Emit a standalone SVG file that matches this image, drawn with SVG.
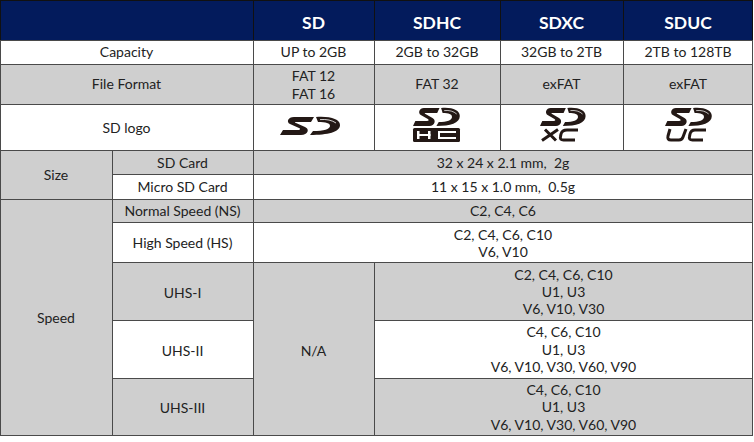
<svg xmlns="http://www.w3.org/2000/svg" width="754" height="442" viewBox="0 0 754 442">
<style>
.c{stroke:#4a4a4a;stroke-width:1}
.w{fill:#ffffff}
.g{fill:#cfcfcf}
.t{font-family:Lato,"Noto Sans",sans-serif;font-size:14px;fill:#222;text-anchor:middle}
.h{font-family:Lato,"Noto Sans",sans-serif;font-size:17.5px;font-weight:bold;fill:#ffffff;text-anchor:middle}
.lg{fill:#231815}
.st{fill:none;stroke:#231815;stroke-width:3;stroke-linejoin:round}
</style>
<defs>
<g id="sdmark">
<path class="lg" d="M34,0 L14,0 C8,0 6,5 10,7 L19,11 C21,12 20,13 18,13 L3,13 L0,18 L21,18 C28,18 30,12 25,10 L16,6 C14,5 15,5 17,5 L31,5 Z"/>
<path class="lg" d="M36,0 C50,-1 60,2 60,8 C60,15 48,18 30,18 L33,14 C44,14 50,12 50,9 C50,6 46,5 38,5 Z"/>
<path d="M40,2.6 Q50,1.8 56,6" fill="none" stroke="#fff" stroke-width="0.8"/>
</g>
</defs>
<rect x="0" y="0" width="754" height="442" fill="#ffffff"/>

<g id="header">
<rect x="0.5" y="0.5" width="752" height="40" fill="#031b5c" stroke="#111" stroke-width="1"/>
<line x1="253.5" y1="0" x2="253.5" y2="40" stroke="#111"/>
<line x1="374.5" y1="0" x2="374.5" y2="40" stroke="#111"/>
<line x1="500.5" y1="0" x2="500.5" y2="40" stroke="#111"/>
<line x1="623.5" y1="0" x2="623.5" y2="40" stroke="#111"/>
<text class="h" x="313.5" y="28.5">SD</text>
<text class="h" x="437" y="28.5">SDHC</text>
<text class="h" x="561.5" y="28.5">SDXC</text>
<text class="h" x="688" y="28.5">SDUC</text>
</g>

<g id="capacity">
<rect class="c w" x="0.5" y="40.5" width="253" height="24"/>
<rect class="c w" x="253.5" y="40.5" width="121" height="24"/>
<rect class="c w" x="374.5" y="40.5" width="126" height="24"/>
<rect class="c w" x="500.5" y="40.5" width="123" height="24"/>
<rect class="c w" x="623.5" y="40.5" width="129" height="24"/>
<text class="t" x="126.5" y="57">Capacity</text>
<text class="t" x="313.5" y="57">UP to 2GB</text>
<text class="t" x="437" y="57">2GB to 32GB</text>
<text class="t" x="561.5" y="57">32GB to 2TB</text>
<text class="t" x="688" y="57">2TB to 128TB</text>
</g>

<g id="fileformat">
<rect class="c g" x="0.5" y="64.5" width="253" height="40"/>
<rect class="c g" x="253.5" y="64.5" width="121" height="40"/>
<rect class="c g" x="374.5" y="64.5" width="126" height="40"/>
<rect class="c g" x="500.5" y="64.5" width="123" height="40"/>
<rect class="c g" x="623.5" y="64.5" width="129" height="40"/>
<text class="t" x="126.5" y="89">File Format</text>
<text class="t" x="313.5" y="81">FAT 12</text>
<text class="t" x="313.5" y="98.5">FAT 16</text>
<text class="t" x="437" y="89">FAT 32</text>
<text class="t" x="561.5" y="89">exFAT</text>
<text class="t" x="688" y="89">exFAT</text>
</g>

<g id="sdlogo">
<rect class="c w" x="0.5" y="104.5" width="253" height="46"/>
<rect class="c w" x="253.5" y="104.5" width="121" height="46"/>
<rect class="c w" x="374.5" y="104.5" width="126" height="46"/>
<rect class="c w" x="500.5" y="104.5" width="123" height="46"/>
<rect class="c w" x="623.5" y="104.5" width="129" height="46"/>
<text class="t" x="126.5" y="132.5">SD logo</text>
<use href="#sdmark" transform="translate(280,117)"/>
<use href="#sdmark" transform="translate(413,108) scale(0.78,1)"/>
<rect x="413" y="128" width="47" height="14" rx="1.5" fill="#231815"/>
<rect x="417" y="131" width="2.5" height="8" fill="#fff"/>
<rect x="428" y="131" width="2.5" height="8" fill="#fff"/>
<rect x="417" y="134" width="13.5" height="2" fill="#fff"/>
<path d="M456,132 L439,132 L439,138 L456,138" fill="none" stroke="#fff" stroke-width="2"/>
<use href="#sdmark" transform="translate(540,108) scale(0.76,1)"/>
<path class="st" d="M545,129.5 L556,140.5 M558,129.5 L542,140.5"/>
<path class="st" d="M578,130 L567,130 Q562,130 561,134 L560.5,136.5 Q559.5,140 563.5,140 L575,140"/>
<use href="#sdmark" transform="translate(665,108) scale(0.78,1)"/>
<path class="st" d="M670,129 L668,136 Q667,140 671,140 L679,140 Q682,140 683,137 L686,129"/>
<path class="st" d="M706,130 L695,130 Q691,130 690,134 L689.5,136.5 Q688.5,140 692.5,140 L703,140"/>
</g>

<g id="size">
<rect class="c g" x="0.5" y="150.5" width="112" height="49"/>
<text class="t" x="56" y="180">Size</text>
</g>
<g id="sdcard">
<rect class="c g" x="112.5" y="150.5" width="141" height="24"/>
<rect class="c g" x="253.5" y="150.5" width="499" height="24"/>
<text class="t" x="182.5" y="167.5">SD Card</text>
<text class="t" x="503" y="167.5" xml:space="preserve">32 x 24 x 2.1 mm,  2g</text>
</g>
<g id="microsd">
<rect class="c w" x="112.5" y="174.5" width="141" height="25"/>
<rect class="c w" x="253.5" y="174.5" width="499" height="25"/>
<text class="t" x="182.5" y="191.5">Micro SD Card</text>
<text class="t" x="503" y="191.5" xml:space="preserve">11 x 15 x 1.0 mm,  0.5g</text>
</g>

<g id="speed">
<rect class="c g" x="0.5" y="199.5" width="112" height="236"/>
<text class="t" x="56" y="322.5">Speed</text>
</g>
<g id="ns">
<rect class="c g" x="112.5" y="199.5" width="141" height="23"/>
<rect class="c g" x="253.5" y="199.5" width="499" height="23"/>
<text class="t" x="182.5" y="215.5">Normal Speed (NS)</text>
<text class="t" x="503" y="215.5">C2, C4, C6</text>
</g>
<g id="hs">
<rect class="c w" x="112.5" y="222.5" width="141" height="40"/>
<rect class="c w" x="253.5" y="222.5" width="499" height="40"/>
<text class="t" x="182.5" y="248">High Speed (HS)</text>
<text class="t" x="503" y="240">C2, C4, C6, C10</text>
<text class="t" x="503" y="257">V6, V10</text>
</g>
<g id="na">
<rect class="c g" x="253.5" y="262.5" width="121" height="173"/>
<text class="t" x="313.5" y="355.5">N/A</text>
</g>
<g id="uhs1">
<rect class="c g" x="112.5" y="262.5" width="141" height="58"/>
<rect class="c g" x="374.5" y="262.5" width="378" height="58"/>
<text class="t" x="182.5" y="297.5">UHS-I</text>
<text class="t" x="563.5" y="280">C2, C4, C6, C10</text>
<text class="t" x="563.5" y="297">U1, U3</text>
<text class="t" x="563.5" y="314">V6, V10, V30</text>
</g>
<g id="uhs2">
<rect class="c w" x="112.5" y="320.5" width="141" height="58"/>
<rect class="c w" x="374.5" y="320.5" width="378" height="58"/>
<text class="t" x="182.5" y="355.5">UHS-II</text>
<text class="t" x="563.5" y="337">C4, C6, C10</text>
<text class="t" x="563.5" y="354.5">U1, U3</text>
<text class="t" x="563.5" y="372">V6, V10, V30, V60, V90</text>
</g>
<g id="uhs3">
<rect class="c g" x="112.5" y="378.5" width="141" height="57"/>
<rect class="c g" x="374.5" y="378.5" width="378" height="57"/>
<text class="t" x="182.5" y="412.5">UHS-III</text>
<text class="t" x="563.5" y="395">C4, C6, C10</text>
<text class="t" x="563.5" y="412">U1, U3</text>
<text class="t" x="563.5" y="429.5">V6, V10, V30, V60, V90</text>
</g>
<g id="connectors"></g>
</svg>
